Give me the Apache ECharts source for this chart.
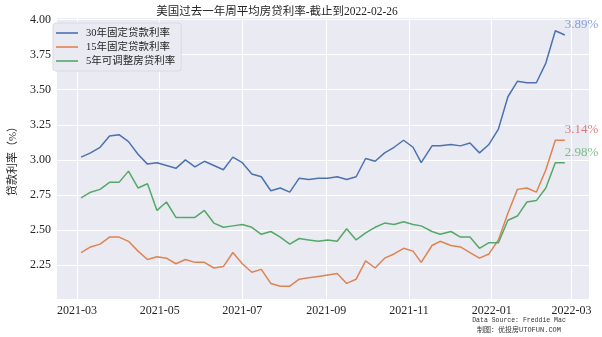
<!DOCTYPE html>
<html>
<head>
<meta charset="utf-8">
<script src="https://cdn.jsdelivr.net/npm/echarts@6/dist/echarts.min.js"></script>
<style>
html,body{margin:0;padding:0;background:#fff;}
#chart{width:602px;height:337px;}
</style>
</head>
<body>
<div id="chart"></div>
<script>
// ---- data ----
const dates = [
  '2021-03-04','2021-03-11','2021-03-18','2021-03-25','2021-04-01','2021-04-08','2021-04-15','2021-04-22','2021-04-29',
  '2021-05-06','2021-05-13','2021-05-20','2021-05-27','2021-06-03','2021-06-10','2021-06-17','2021-06-24',
  '2021-07-01','2021-07-08','2021-07-15','2021-07-22','2021-07-29','2021-08-05','2021-08-12','2021-08-19','2021-08-26',
  '2021-09-02','2021-09-09','2021-09-16','2021-09-23','2021-09-30','2021-10-07','2021-10-14','2021-10-21','2021-10-28',
  '2021-11-04','2021-11-10','2021-11-18','2021-11-24','2021-12-02','2021-12-09','2021-12-16','2021-12-23','2021-12-30',
  '2022-01-06','2022-01-13','2022-01-20','2022-01-27','2022-02-03','2022-02-10','2022-02-17','2022-02-24'
];
const rate30 = [
  3.02,3.05,3.09,3.17,3.18,3.13,3.04,2.97,2.98,
  2.96,2.94,3.00,2.95,2.99,2.96,2.93,3.02,
  2.98,2.90,2.88,2.78,2.80,2.77,2.87,2.86,2.87,
  2.87,2.88,2.86,2.88,3.01,2.99,3.05,3.09,3.14,
  3.09,2.98,3.10,3.10,3.11,3.10,3.12,3.05,3.11,
  3.22,3.45,3.56,3.55,3.55,3.69,3.92,3.89
];
const rate15 = [
  2.34,2.38,2.40,2.45,2.45,2.42,2.35,2.29,2.31,
  2.30,2.26,2.29,2.27,2.27,2.23,2.24,2.34,
  2.26,2.20,2.22,2.12,2.10,2.10,2.15,2.16,2.17,
  2.18,2.19,2.12,2.15,2.28,2.23,2.30,2.33,2.37,
  2.35,2.27,2.39,2.42,2.39,2.38,2.34,2.30,2.33,
  2.43,2.62,2.79,2.80,2.77,2.93,3.14,3.14
];
const rate5arm = [
  2.73,2.77,2.79,2.84,2.84,2.92,2.80,2.83,2.64,
  2.70,2.59,2.59,2.59,2.64,2.55,2.52,2.53,
  2.54,2.52,2.47,2.49,2.45,2.40,2.44,2.43,2.42,
  2.43,2.42,2.51,2.43,2.48,2.52,2.55,2.54,2.56,
  2.54,2.53,2.49,2.47,2.49,2.45,2.45,2.37,2.41,
  2.41,2.57,2.60,2.70,2.71,2.80,2.98,2.98
];
const seriesNames = ['30年固定贷款利率','15年固定贷款利率','5年可调整房贷利率'];
const xTickDates = ['2021-03-01','2021-05-01','2021-07-01','2021-09-01','2021-11-01','2022-01-01','2022-03-01'];
const yTicks = [2.25,2.50,2.75,3.00,3.25,3.50,3.75,4.00];
const titleText = '美国过去一年周平均房贷利率-截止到2022-02-26';
const yAxisName = '贷款利率（%）';
const sourceLine1 = 'Data Source: Freddie Mac';
const sourceLine2 = '制图：优投房UTOFUN.COM';

// ---- helpers ----
function ts(s){ const p = s.split('-').map(Number); return Date.UTC(p[0], p[1]-1, p[2]); }
const xs = dates.map(ts);
const lineColors = ['#4C72B0','#DD8452','#55A868'];
const labelColors = ['#6a8fd6','#d65f5f','#5fb06f'];
const allSeries = [rate30, rate15, rate5arm];

const x0 = xs[0], x1 = xs[xs.length-1];
const xr = x1 - x0;
const allVals = [].concat(rate30, rate15, rate5arm);
const vmin = Math.min.apply(null, allVals), vmax = Math.max.apply(null, allVals);
const vr = vmax - vmin;

const fontNum = "'Liberation Serif', 'Noto Sans CJK SC', serif";
const fontCJK = "'Liberation Serif', 'Noto Sans CJK SC', sans-serif";

const series = [];
allSeries.forEach((arr, i) => {
  series.push({
    name: seriesNames[i],
    type: 'line',
    data: arr.map((v, k) => [xs[k], v]),
    showSymbol: false,
    symbol: 'none',
    lineStyle: {color: lineColors[i], width: 1.5},
    itemStyle: {color: lineColors[i]},
    animation: false,
    z: 3
  });
});
allSeries.forEach((arr, i) => {
  const k = arr.length - 1;
  series.push({
    type: 'scatter',
    data: [[xs[k], arr[k]]],
    symbolSize: 0,
    silent: true,
    animation: false,
    label: {
      show: true,
      position: [0, 0],
      align: 'left',
      verticalAlign: 'middle',
      offset: [0, -10.5],
      formatter: p => p.value[1].toFixed(2) + '%',
      color: labelColors[i],
      fontFamily: fontNum,
      fontSize: 13
    },
    z: 5
  });
});

const chart = echarts.init(document.getElementById('chart'), null, {renderer: 'canvas'});
chart.setOption({
  backgroundColor: '#ffffff',
  animation: false,
  grid: {
    left: 48, right: 13, top: 18, bottom: 38,
    show: true, backgroundColor: '#EAEAF2', borderWidth: 0
  },
  legend: {
    data: seriesNames,
    orient: 'vertical',
    left: 53, top: 23,
    padding: [4, 6, 4, 3],
    itemGap: 2,
    itemWidth: 22,
    itemHeight: 1.6,
    icon: 'rect',
    backgroundColor: '#EAEAF2',
    borderColor: '#dadae2',
    borderWidth: 1,
    borderRadius: 3,
    textStyle: {fontFamily: fontCJK, fontSize: 10.5, lineHeight: 12, color: '#262626', padding: [0,0,0,3]}
  },
  xAxis: {
    type: 'value',
    min: x0 - 0.05 * xr,
    max: x1 + 0.05 * xr,
    axisLine: {show: false},
    axisTick: {show: false, customValues: xTickDates.map(ts)},
    axisLabel: {
      customValues: xTickDates.map(ts),
      formatter: v => { const d = new Date(v); return d.getUTCFullYear() + '-' + String(d.getUTCMonth()+1).padStart(2,'0'); },
      fontFamily: fontNum, fontSize: 12, color: '#262626', margin: 6,
      hideOverlap: false
    },
    splitLine: {show: true, lineStyle: {color: '#ffffff', width: 1}}
  },
  yAxis: {
    type: 'value',
    min: vmin - 0.05 * vr,
    max: vmax + 0.05 * vr,
    axisLine: {show: false},
    axisTick: {show: false, customValues: yTicks},
    axisLabel: {
      customValues: yTicks,
      formatter: v => Number(v).toFixed(2),
      fontFamily: fontNum, fontSize: 12, color: '#262626', margin: 6
    },
    splitLine: {show: true, lineStyle: {color: '#ffffff', width: 1}},
    name: yAxisName,
    nameLocation: 'middle',
    nameRotate: 90,
    nameGap: 31,
    nameTextStyle: {fontFamily: fontCJK, fontSize: 11, color: '#262626'}
  },
  graphic: [
    {type: 'text', x: 277, y: 12, style: {text: titleText, fill: '#262626', font: "11.5px 'Liberation Serif', 'Noto Sans CJK SC'", textAlign: 'center', textVerticalAlign: 'middle'}},
    {type: 'text', x: 519, y: 320, style: {text: sourceLine1, fill: '#333', font: "6.5px 'Liberation Mono', monospace", textAlign: 'center', textVerticalAlign: 'middle'}},
    {type: 'text', x: 519, y: 330, style: {text: sourceLine2, fill: '#333', font: "7px 'Liberation Mono', 'Noto Sans CJK SC', monospace", textAlign: 'center', textVerticalAlign: 'middle'}}
  ],
  series: series
});
</script>
</body>
</html>
